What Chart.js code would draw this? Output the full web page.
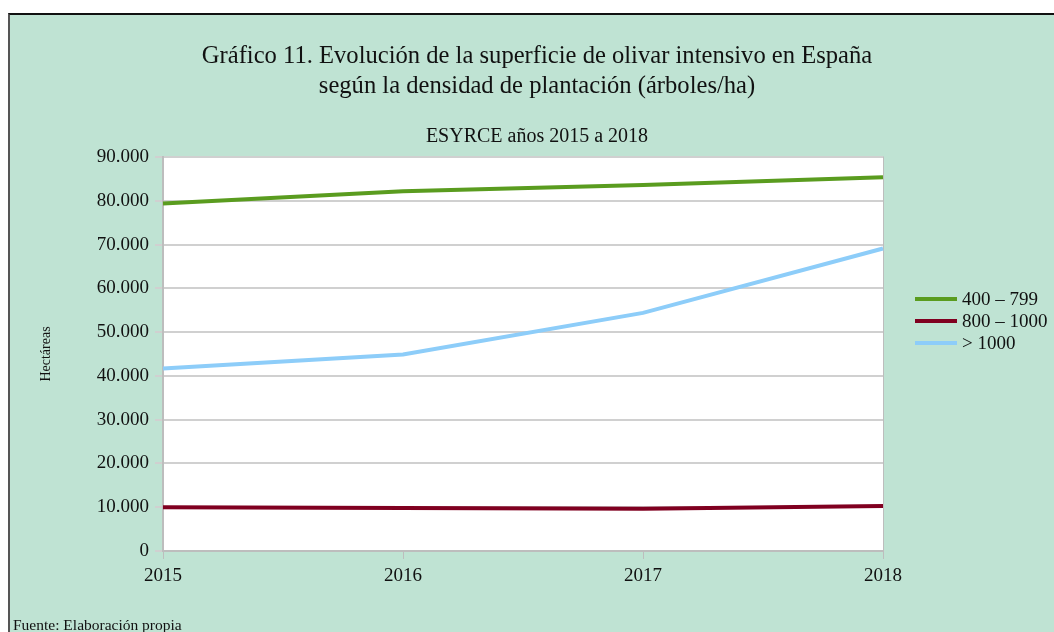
<!DOCTYPE html>
<html lang="es">
<head>
<meta charset="utf-8">
<script src="https://cdn.jsdelivr.net/npm/chart.js@4"></script>
<style>
  html, body { margin: 0; padding: 0; background: #fff; }
  body { width: 1054px; height: 632px; position: relative; overflow: hidden; font-family: "Liberation Serif", serif; color: #111; }
  #frame { position: absolute; left: 8px; top: 13px; width: 1100px; height: 700px; background: #bfe3d3; border-left: 2px solid #555; border-top: 2px solid #111; }
  #chartBox { position: absolute; left: 0; top: 0; width: 1054px; height: 632px; }
  #legend { position: absolute; left: 915px; top: 288px; }
  .item { display: flex; align-items: center; height: 22px; font-size: 19px; white-space: nowrap; }
  .swatch { width: 42px; height: 4px; margin-right: 5px; }
  #source { position: absolute; left: 13px; top: 616px; font-size: 15.5px; white-space: nowrap; }
</style>
</head>
<body>
<div id="frame"></div>
<div id="chartBox"><canvas id="olivarChart"></canvas></div>
<div id="legend"></div>
<div id="source">Fuente: Elaboración propia</div>
<script>
// Data (hectáreas)
const years = ['2015', '2016', '2017', '2018'];
const seriesNames = ['400 – 799', '800 – 1000', '> 1000'];
const dens400 = [79400, 82200, 83600, 85400];
const dens800 = [10000, 9850, 9650, 10300];
const dens1000 = [41700, 44900, 54400, 69100];
const seriesColors = ['#5a9c1f', '#800020', '#8dcdf9'];

const FONT = '"Liberation Serif", serif';

// white plot area with light grey edge
const plotBg = {
  id: 'plotBg',
  beforeDraw(chart) {
    const { ctx, chartArea: a } = chart;
    ctx.save();
    ctx.fillStyle = '#fff';
    ctx.fillRect(a.left, a.top, a.width, a.height);
    ctx.strokeStyle = '#bdbdbd';
    ctx.lineWidth = 1;
    ctx.strokeRect(a.left + 0.5, a.top, a.width, a.height);
    ctx.restore();
  }
};

const fmt = v => String(v).replace(/\B(?=(\d{3})+(?!\d))/g, '.');

const ctx = document.getElementById('olivarChart').getContext('2d');
const olivarChart = new Chart(ctx, {
  type: 'line',
  data: {
    labels: years,
    datasets: [dens400, dens800, dens1000].map((d, i) => ({
      label: seriesNames[i],
      data: d,
      borderColor: seriesColors[i],
      backgroundColor: seriesColors[i],
      borderWidth: 4,
      pointRadius: 0,
      tension: 0,
      fill: false
    }))
  },
  options: {
    responsive: true,
    maintainAspectRatio: false,
    animation: false,
    layout: { padding: { left: 20, right: 0, top: 0, bottom: 41 } },
    plugins: {
      legend: { display: false },
      tooltip: { enabled: false },
      title: {
        display: true,
        text: ['Gráfico 11. Evolución de la superficie de olivar intensivo en España',
               'según la densidad de plantación (árboles/ha)'],
        color: '#111',
        font: { family: FONT, size: 24.6, weight: 'normal', lineHeight: '30px' },
        padding: { top: 42, bottom: 0 }
      },
      subtitle: {
        display: true,
        text: 'ESYRCE años 2015 a 2018',
        color: '#111',
        font: { family: FONT, size: 20, lineHeight: '22px' },
        padding: { top: 24, bottom: 9 }
      }
    },
    scales: {
      x: {
        grid: { drawOnChartArea: false, tickLength: 8, color: '#bdbdbd', lineWidth: 1 },
        border: { color: '#bdbdbd', width: 2 },
        ticks: { color: '#111', font: { family: FONT, size: 19 }, padding: 6, maxRotation: 0 },
        afterFit(scale) { scale.height = 40; }
      },
      y: {
        min: 0,
        max: 90000,
        grid: { color: '#d0d0d0', lineWidth: 2, tickLength: 8 },
        border: { color: '#bdbdbd', width: 2 },
        ticks: { stepSize: 10000, color: '#111', font: { family: FONT, size: 19 }, padding: 6, callback: v => fmt(v) },
        title: {
          display: true,
          text: 'Hectáreas',
          color: '#111',
          font: { family: FONT, size: 14 },
          padding: { top: 18, bottom: 0 }
        },
        afterFit(scale) { scale.width = 143; }
      },
      // empty right-hand strip that leaves room for the legend
      legendSpace: {
        type: 'linear',
        position: 'right',
        grid: { display: false },
        border: { display: false },
        ticks: { display: false },
        afterFit(scale) { scale.width = 171; }
      }
    }
  },
  plugins: [plotBg]
});

// legend as html, built from the same series
const legendBox = document.getElementById('legend');
seriesNames.forEach((name, i) => {
  const row = document.createElement('div');
  row.className = 'item';
  const sw = document.createElement('span');
  sw.className = 'swatch';
  sw.style.background = seriesColors[i];
  row.appendChild(sw);
  row.appendChild(document.createTextNode(name));
  legendBox.appendChild(row);
});
</script>
</body>
</html>
